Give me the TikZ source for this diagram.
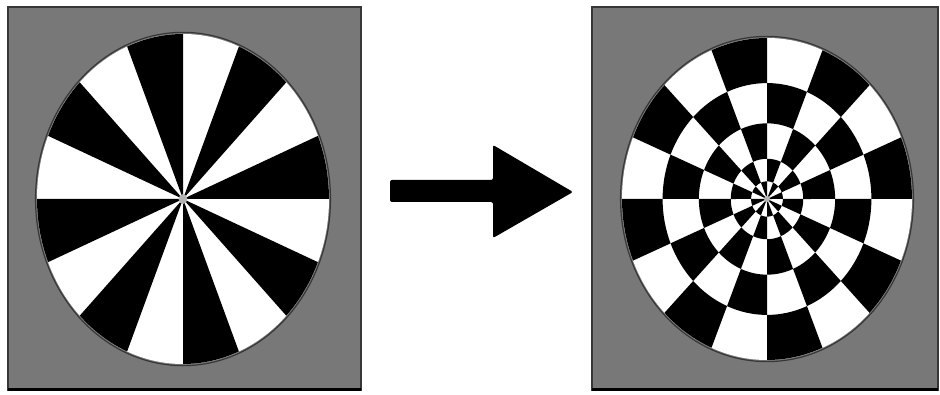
\documentclass[tikz,border=0pt]{standalone}
\usetikzlibrary{calc}
\begin{document}
\begin{tikzpicture}[x=1pt,y=1pt]
\definecolor{panelgray}{RGB}{120,120,120}
\definecolor{rimgray}{RGB}{55,55,55}
\tikzset{
  panel/.style={fill=panelgray, draw=rimgray, line width=1.5pt},
  panelbase/.style={draw=black, line width=3pt},
  tile/.style={fill=black},
  rim/.style={draw=rimgray, line width=1.2pt},
  hub/.style={fill=gray!60}
}
\useasboundingbox[fill=white] (0,0) rectangle (940,394);
% panels
\path[panel] (8,4) rectangle (361,387);
\draw[panelbase] (8,4.5) -- (361,4.5);
\path[panel] (592,4) rectangle (938,387);
\draw[panelbase] (592,4.5) -- (938,4.5);
% left wheel: 16 radial sectors
\begin{scope}[shift={(183,195)}, xscale=146, yscale=165]
  \fill[white] (0,0) circle[radius=1];
  \foreach \k in {0,2,...,14}
    \fill[tile] (0,0) -- ({\k*22.5}:1) arc[start angle={\k*22.5}, delta angle=22.5, radius=1] -- cycle;
  \path[rim] (0,0) circle[radius=1.01];
  \fill[hub] (0,0) circle[radius=0.03];
\end{scope}
% right wheel: polar checkerboard
\begin{scope}[shift={(767,195)}, xscale=145, yscale=161]
  \fill[white] (0,0) circle[radius=1];
  \foreach \ro/\ri/\k in {1/0.72/0, 0.72/0.47/1, 0.47/0.25/2, 0.25/0.11/3, 0.11/0.005/4} {
    \foreach \j in {0,...,15} {
      \pgfmathtruncatemacro\parity{mod(\j+\k,2)}
      \ifnum\parity=0
        \fill[tile] ({\j*22.5}:\ro) arc[start angle={\j*22.5}, delta angle=22.5, radius=\ro]
          -- ({(\j+1)*22.5}:\ri) arc[start angle={(\j+1)*22.5}, delta angle=-22.5, radius=\ri] -- cycle;
      \fi
    }
  }
  \path[rim] (0,0) circle[radius=1.01];
  \fill[hub] (0,0) circle[radius=0.02];
\end{scope}
% block arrow
\coordinate (tail) at (390,203);
\coordinate (tip) at (573,202);
\fill[black, rounded corners=2pt] ($(tail)+(0,11)$) -- (493,214) -- (493,249) -- (tip) -- (493,156) -- (493,192) -- ($(tail)+(0,-11)$) -- cycle;
\end{tikzpicture}
\end{document}
